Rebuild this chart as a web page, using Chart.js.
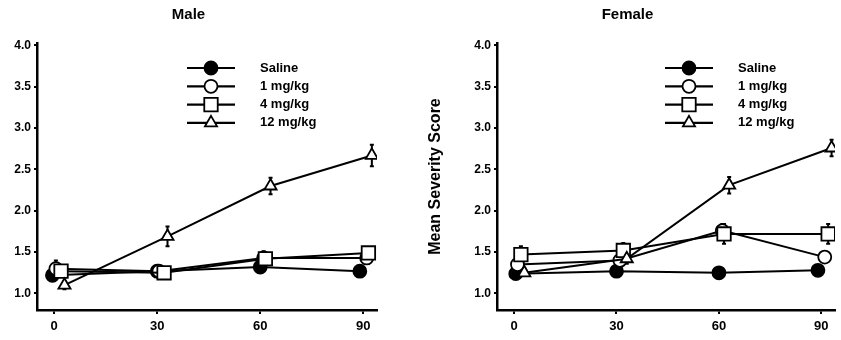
<!DOCTYPE html>
<html>
<head>
<meta charset="utf-8">
<script src="https://cdn.jsdelivr.net/npm/chart.js@4/dist/chart.umd.min.js"></script>
<style>
  body { margin: 0; background: #fff; }
  .panel { position: absolute; top: 0; height: 340px; }
</style>
</head>
<body>
<div class="panel" style="left:0;width:420px"><canvas id="maleChart" width="420" height="340"></canvas></div>
<div class="panel" style="left:420px;width:421px"><canvas id="femaleChart" width="421" height="340"></canvas></div>
<script>
const xTicks = [0, 30, 60, 90];
const yTicks = [1.0, 1.5, 2.0, 2.5, 3.0, 3.5, 4.0];
const groupNames = ['Saline', '1 mg/kg', '4 mg/kg', '12 mg/kg'];

// Male (time points are slightly offset per group, as in the figure)
const maleSalineX = [-0.5, 30, 60, 89];
const maleSaline = [1.22, 1.27, 1.32, 1.27];
const maleSalineErr = [0.05, 0, 0.04, 0.06];
const male1X = [0.5, 30.5, 61, 91];
const male1 = [1.3, 1.27, 1.43, 1.43];
const male1Err = [0.1, 0, 0.08, 0.05];
const male4X = [2, 32, 61.5, 91.5];
const male4 = [1.27, 1.25, 1.42, 1.49];
const male4Err = [0.05, 0.04, 0.05, 0.05];
const male12X = [3, 33, 63, 92.5];
const male12 = [1.1, 1.69, 2.3, 2.67];
const male12Err = [0.05, 0.12, 0.1, 0.13];

// Female
const femSalineX = [0.5, 30, 60, 89];
const femSaline = [1.24, 1.27, 1.25, 1.28];
const femSalineErr = [0.04, 0, 0, 0];
const fem1X = [1, 31, 61, 91];
const fem1 = [1.35, 1.4, 1.76, 1.44];
const fem1Err = [0.05, 0.05, 0.08, 0];
const fem4X = [2, 32, 61.5, 92];
const fem4 = [1.47, 1.52, 1.72, 1.72];
const fem4Err = [0.1, 0.09, 0.12, 0.12];
const fem12X = [3, 33, 63, 93];
const fem12 = [1.25, 1.42, 2.31, 2.76];
const fem12Err = [0.04, 0.06, 0.1, 0.1];

const styles = [
  { pointStyle: 'circle', radius: 6.5, fill: '#000' },
  { pointStyle: 'circle', radius: 6.5, fill: '#fff' },
  { pointStyle: 'rect', radius: 9.5, fill: '#fff' },
  { pointStyle: 'triangle', radius: 7, fill: '#fff' }
];

function makeSet(i, xs, ys, errs) {
  const s = styles[i];
  return {
    label: groupNames[i],
    data: xs.map((x, k) => ({ x: x, y: ys[k] })),
    errors: errs,
    order: 3 - i,   // later groups drawn on top
    borderColor: '#000',
    borderWidth: 2,
    backgroundColor: s.fill,
    pointStyle: s.pointStyle,
    pointRadius: s.radius,
    pointBorderWidth: 1.8,
    pointBackgroundColor: s.fill,
    pointBorderColor: '#000',
    tension: 0
  };
}

function drawMarker(ctx, style, x, y) {
  const r = style.radius;
  ctx.beginPath();
  if (style.pointStyle === 'circle') {
    ctx.arc(x, y, r, 0, Math.PI * 2);
  } else if (style.pointStyle === 'rect') {
    const h = r * Math.SQRT1_2;
    ctx.rect(x - h, y - h, 2 * h, 2 * h);
  } else {
    ctx.moveTo(x, y - r);
    ctx.lineTo(x + r * 0.866, y + r * 0.5);
    ctx.lineTo(x - r * 0.866, y + r * 0.5);
    ctx.closePath();
  }
  ctx.fillStyle = style.fill;
  ctx.fill();
  ctx.lineWidth = 1.8;
  ctx.strokeStyle = '#000';
  ctx.stroke();
}

// error bars, drawn under the markers
const errorBars = {
  id: 'errorBars',
  beforeDatasetsDraw(chart) {
    const ctx = chart.ctx;
    const xs = chart.scales.x, ys = chart.scales.y;
    ctx.save();
    ctx.strokeStyle = '#000';
    ctx.lineWidth = 2;
    chart.data.datasets.forEach(ds => {
      ds.data.forEach((p, k) => {
        const e = ds.errors[k];
        if (!e) return;
        const px = xs.getPixelForValue(p.x);
        const top = ys.getPixelForValue(p.y + e);
        const bot = ys.getPixelForValue(p.y - e);
        ctx.beginPath();
        ctx.moveTo(px, top); ctx.lineTo(px, bot);
        ctx.moveTo(px - 2, top); ctx.lineTo(px + 2, top);
        ctx.moveTo(px - 2, bot); ctx.lineTo(px + 2, bot);
        ctx.stroke();
      });
    });
    ctx.restore();
  }
};

// legend in the upper part of the plot: line, marker, label
const boxLegend = {
  id: 'boxLegend',
  afterDraw(chart, args, opts) {
    const ctx = chart.ctx;
    const area = chart.chartArea;
    ctx.save();
    ctx.font = 'bold 13px "Liberation Sans", Arial, sans-serif';
    ctx.textBaseline = 'middle';
    chart.data.datasets.forEach((ds, i) => {
      const y = area.top + opts.top + i * opts.rowGap;
      const x0 = area.left + opts.left;
      ctx.beginPath();
      ctx.moveTo(x0, y);
      ctx.lineTo(x0 + opts.lineLen, y);
      ctx.lineWidth = 2.2;
      ctx.strokeStyle = '#000';
      ctx.stroke();
      drawMarker(ctx, styles[i], x0 + opts.lineLen / 2, y);
      ctx.fillStyle = '#000';
      ctx.fillText(ds.label, x0 + opts.textOffset, y);
    });
    ctx.restore();
  }
};

function makeChart(id, title, datasets, yWidth, rightPad, yTitle, legendLeft) {
  return new Chart(document.getElementById(id), {
    type: 'line',
    data: { datasets: datasets },
    plugins: [errorBars, boxLegend],
    options: {
      responsive: false,
      animation: false,
      layout: { autoPadding: false, padding: { left: 0, right: rightPad, top: 0, bottom: 0 } },
      plugins: {
        legend: { display: false },
        tooltip: { enabled: false },
        title: {
          display: true,
          text: title,
          color: '#000',
          font: { family: '"Liberation Sans", Arial, sans-serif', size: 15, weight: 'bold' },
          padding: { top: 6, bottom: 19 }
        },
        boxLegend: { left: legendLeft, top: 25, rowGap: 18.3, lineLen: 48, textOffset: 73 }
      },
      scales: {
        x: {
          type: 'linear',
          min: -5,
          max: 94,
          afterBuildTicks: s => { s.ticks = xTicks.map(v => ({ value: v })); },
          afterFit: s => { s.height = 30; s.paddingLeft = 0; s.paddingRight = 0; },
          grid: { display: true, drawOnChartArea: false, drawTicks: true, tickLength: 4, color: '#000', lineWidth: 2 },
          border: { display: true, color: '#000', width: 2.5 },
          ticks: {
            color: '#000',
            padding: 5,
            maxRotation: 0,
            font: { family: '"Liberation Sans", Arial, sans-serif', size: 13, weight: 'bold' }
          }
        },
        y: {
          min: 0.8,
          max: 4.03,
          afterBuildTicks: s => { s.ticks = yTicks.map(v => ({ value: v })); },
          afterFit: s => { s.width = yWidth; },
          grid: { display: true, drawOnChartArea: false, drawTicks: true, tickLength: 3, color: '#000', lineWidth: 2 },
          border: { display: true, color: '#000', width: 2.5 },
          title: {
            display: !!yTitle,
            text: yTitle,
            color: '#000',
            font: { family: '"Liberation Sans", Arial, sans-serif', size: 16, weight: 'bold' },
            padding: { top: 6, bottom: 0 }
          },
          ticks: {
            color: '#000',
            padding: 3,
            callback: v => v.toFixed(1),
            font: { family: '"Liberation Sans", Arial, sans-serif', size: 12, weight: 'bold' }
          }
        }
      }
    }
  });
}

makeChart('maleChart', 'Male', [
  makeSet(0, maleSalineX, maleSaline, maleSalineErr),
  makeSet(1, male1X, male1, male1Err),
  makeSet(2, male4X, male4, male4Err),
  makeSet(3, male12X, male12, male12Err)
], 37, 43, '', 150);

makeChart('femaleChart', 'Female', [
  makeSet(0, femSalineX, femSaline, femSalineErr),
  makeSet(1, fem1X, fem1, fem1Err),
  makeSet(2, fem4X, fem4, fem4Err),
  makeSet(3, fem12X, fem12, fem12Err)
], 77, 6, 'Mean Severity Score', 168);
</script>
</body>
</html>
